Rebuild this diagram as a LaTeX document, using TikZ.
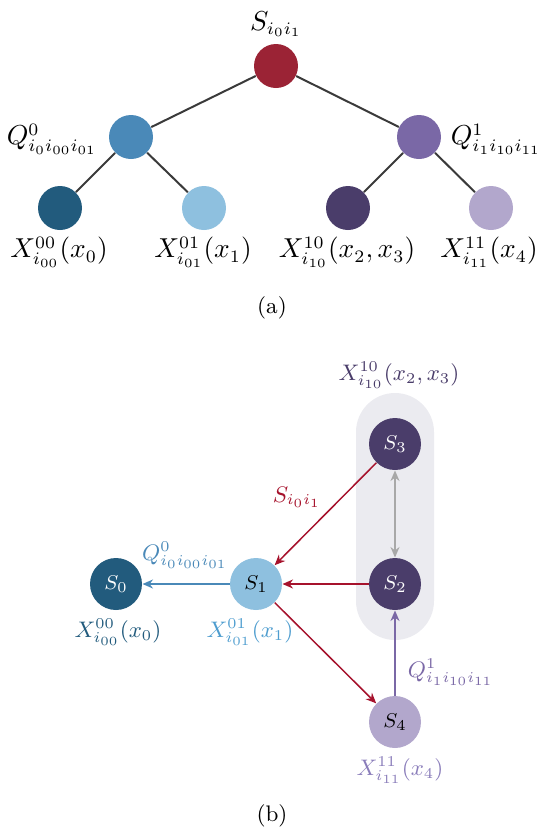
\documentclass[tikz,border=0pt]{standalone}
\usetikzlibrary{arrows.meta}
\definecolor{cRoot}{HTML}{9B2335}
\definecolor{cQa}{HTML}{4A89B8}
\definecolor{cXa}{HTML}{225B7D}
\definecolor{cXb}{HTML}{8EC0DF}
\definecolor{cQb}{HTML}{7A68A6}
\definecolor{cXc}{HTML}{4A3D6A}
\definecolor{cXd}{HTML}{B2A7CC}
\definecolor{cRed}{HTML}{A6122C}
\definecolor{cGray}{HTML}{A8A8A8}
\definecolor{cBg}{HTML}{EBEBF0}
\definecolor{cEdge}{HTML}{3A3A3A}
\definecolor{cXbText}{HTML}{4E9DCF}
\definecolor{cXdText}{HTML}{8A7DBA}
\tikzset{
  treenode/.style={circle, minimum size=44*0.4pt, inner sep=0pt},
  statenode/.style={circle, minimum size=52*0.4pt, inner sep=0pt, font=\fontsize{8}{9}\selectfont},
  treeedge/.style={draw=cEdge, line width=0.8pt},
  arr/.style={line width=0.6pt, -{Stealth[length=4.2pt,width=3.6pt]}},
  alab/.style={font=\fontsize{10.5}{12}\selectfont},
  blab/.style={font=\fontsize{8.9}{11}\selectfont},
  caplab/.style={font=\fontsize{9}{11}\selectfont}
}
\begin{document}
\begin{tikzpicture}[x=0.4pt,y=-0.4pt]
\useasboundingbox (0,0) rectangle (541,829);
% ---------- (a) ----------
\node[treenode, fill=cRoot] (r) at (276,66) {};
\node[treenode, fill=cQa] (q0) at (131,137) {};
\node[treenode, fill=cQb] (q1) at (419,137) {};
\node[treenode, fill=cXa] (x00) at (60,208) {};
\node[treenode, fill=cXb] (x01) at (204,208) {};
\node[treenode, fill=cXc] (x10) at (348,208) {};
\node[treenode, fill=cXd] (x11) at (491,208) {};
\draw[treeedge] (r) -- (q0);
\draw[treeedge] (r) -- (q1);
\draw[treeedge] (q0) -- (x00);
\draw[treeedge] (q0) -- (x01);
\draw[treeedge] (q1) -- (x10);
\draw[treeedge] (q1) -- (x11);
\node[alab] (lr) at (276,24) {$S_{i_0i_1}$};
\node[alab, anchor=east] (lq0) at (106,139) {$Q^0_{i_0i_{00}i_{01}}$};
\node[alab, anchor=west] (lq1) at (442,139) {$Q^1_{i_1i_{10}i_{11}}$};
\node[alab] (lx00) at (59,252) {$X^{00}_{i_{00}}(x_0)$};
\node[alab] (lx01) at (203,252) {$X^{01}_{i_{01}}(x_1)$};
\node[alab] (lx10) at (347,252) {$X^{10}_{i_{10}}(x_2,x_3)$};
\node[alab] (lx11) at (489,252) {$X^{11}_{i_{11}}(x_4)$};
\node[caplab] (capa) at (272,308) {(a)};
% ---------- (b) ----------
\fill[cBg, rounded corners=39*0.4pt] (356,393) rectangle (434,640);
\node[statenode, fill=cXa, text=white] (s0) at (116,584) {$S_0$};
\node[statenode, fill=cXb, text=black] (s1) at (256,584) {$S_1$};
\node[statenode, fill=cXc, text=white] (s2) at (395,584) {$S_2$};
\node[statenode, fill=cXc, text=white] (s3) at (395,444) {$S_3$};
\node[statenode, fill=cXd, text=black] (s4) at (395,722) {$S_4$};
\draw[arr, draw=cGray, {Stealth[length=4.2pt,width=3.6pt]}-{Stealth[length=4.2pt,width=3.6pt]}] (s3) -- (s2);
\draw[arr, draw=cRed] (s3) -- (s1);
\draw[arr, draw=cRed] (s2) -- (s1);
\draw[arr, draw=cRed] (s1) -- (s4);
\draw[arr, draw=cQa] (s1) -- (s0);
\draw[arr, draw=cQb] (s4) -- (s2);
\node[blab, text=cXc] (lb10) at (399,375) {$X^{10}_{i_{10}}(x_2,x_3)$};
\node[blab, text=cRed] (lbs) at (297,497) {$S_{i_0i_1}$};
\node[blab, text=cQa] (lbq0) at (185,555) {$Q^0_{i_0i_{00}i_{01}}$};
\node[blab, text=cXa] (lb00) at (118,632) {$X^{00}_{i_{00}}(x_0)$};
\node[blab, text=cXbText] (lb01) at (250,632) {$X^{01}_{i_{01}}(x_1)$};
\node[blab, text=cQb, anchor=west] (lbq1) at (399,672) {$Q^1_{i_1i_{10}i_{11}}$};
\node[blab, text=cXdText] (lb11) at (400,770) {$X^{11}_{i_{11}}(x_4)$};
\node[caplab] (capb) at (272,816) {(b)};
\end{tikzpicture}
\end{document}
